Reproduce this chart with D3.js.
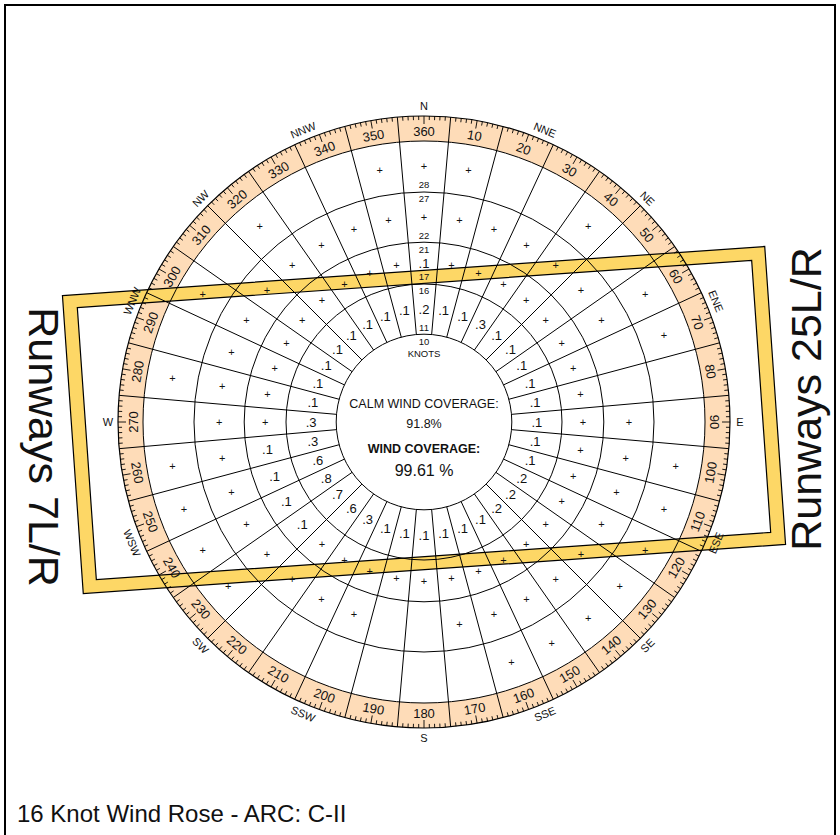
<!DOCTYPE html>
<html>
<head>
<meta charset="utf-8">
<script src="https://cdn.jsdelivr.net/npm/d3@7"></script>
<style>
body { margin: 0; background: #fff; }
text { font-family: Arial, "Liberation Sans", sans-serif; fill: #111; }
</style>
</head>
<body>
<div id="chart-area"></div>
<script>
// speed ring limits (knots), calm circle first
var ringBreaks = [10.5, 16.5, 21.5, 27.5, 33.6];
// sector directions (degrees)
var directions = d3.range(10, 361, 10);
// percentages per sector, listed 10,20,...,360 ; "" = no wind
var ring1 = [".1",".1",".3",".1",".1",".1",".1",".1",".1",".1",".1",".2",".2",".2",".1",".1",".1",".1",
             ".1",".1",".3",".6",".7",".8",".6",".3",".3",".1",".1",".1",".1",".1",".1",".1",".1",".2"];
var ring2 = ["+","+","+","+","+","+","+","+","+","+","+","+","+","+","+","+","+","+",
             "+","+","+","+",".1",".1",".1",".1","+","+","+","+","+","+","+","+","+",".1"];
var ring3 = ["+","+","+","+","+","+","","","+","+","+","+","+","+","+","+","+","",
             "","+","+","+","+","+","+","+","+","+","+","+","+","+","+","+","+","+"];
var ring4 = ["+","","","+","","+","+","","","+","+","+","+","+","+","+","","",
             "","","","","+","+","+","+","","+","","+","","+","","","+","+"];
var compassNames = ["N","NNE","NE","ENE","E","ESE","SE","SSE","S","SSW","SW","WSW","W","WNW","NW","NNW"];
var calmCoverage = "91.8%";
var windCoverage = "99.61 %";
var runwayHeading = 86;      // true heading of runway 7/25 on the rose
var crosswindLimit = 16.3;   // knots, inner edge of runway template
var titleText = "16 Knot Wind Rose - ARC: C-II";

var W = 840, H = 835;
var cx = 424, cy = 422;
var ringOuter = 306;

var svg = d3.select("#chart-area")
    .append("svg")
        .attr("width", W)
        .attr("height", H);

// border
svg.append("rect")
    .attr("x", 5).attr("y", 5)
    .attr("width", 830).attr("height", 845)
    .attr("fill", "none")
    .attr("stroke", "#000")
    .attr("stroke-width", 2);

// scales
var rScale = d3.scaleLinear()
    .domain([0, 33.6])
    .range([0, 281]);
var rad = d3.scaleLinear()
    .domain([0, 360])
    .range([0, 2 * Math.PI]);

function pt(deg, r) {
    var a = rad(deg);
    return [cx + r * Math.sin(a), cy - r * Math.cos(a)];
}

var g = svg.append("g");

// compass ring fill
var rInner = rScale(ringBreaks[ringBreaks.length - 1]);
g.append("path")
    .attr("transform", "translate(" + cx + "," + cy + ")")
    .attr("d", d3.arc()({innerRadius: rInner, outerRadius: ringOuter, startAngle: 0, endAngle: 2 * Math.PI}))
    .attr("fill", "#fedcb8");

// runway template
var ha = rad(runwayHeading);
var ux = Math.sin(ha), uy = -Math.cos(ha);
var nx = -Math.cos(ha), ny = -Math.sin(ha);
var bx = cx, by = cy - 2;
function rp(along, across) {
    return [bx + along * ux + across * nx, by + along * uy + across * ny];
}
var inW = rScale(crosswindLimit), outW = inW + 13;
var outL = 352, inL = outL - 14;
function rectPath(L, Wd) {
    var p = [rp(-L, Wd), rp(L, Wd), rp(L, -Wd), rp(-L, -Wd)];
    return "M" + p.map(function(d) { return d[0] + "," + d[1]; }).join("L") + "Z";
}
g.append("path")
    .attr("d", rectPath(outL, outW) + rectPath(inL, inW))
    .attr("fill", "#fdd766")
    .attr("fill-rule", "evenodd")
    .attr("stroke", "#000")
    .attr("stroke-width", 1.2);

// speed circles
ringBreaks.forEach(function(b) {
    g.append("circle")
        .attr("cx", cx).attr("cy", cy)
        .attr("r", rScale(b))
        .attr("fill", "none")
        .attr("stroke", "#000")
        .attr("stroke-width", 1);
});
g.append("circle")
    .attr("cx", cx).attr("cy", cy)
    .attr("r", ringOuter)
    .attr("fill", "none")
    .attr("stroke", "#000")
    .attr("stroke-width", 1.2);

// sector boundaries
d3.range(5, 360, 10).forEach(function(d) {
    var a = pt(d, rScale(ringBreaks[0])), b = pt(d, ringOuter);
    g.append("line")
        .attr("x1", a[0]).attr("y1", a[1])
        .attr("x2", b[0]).attr("y2", b[1])
        .attr("stroke", "#000")
        .attr("stroke-width", 1);
});

// degree ticks
d3.range(0, 360, 1).filter(function(d) { return d % 10 != 5; }).forEach(function(d) {
    var len = d % 10 == 0 ? 8 : 4;
    var a = pt(d, ringOuter), b = pt(d, ringOuter - len);
    g.append("line")
        .attr("x1", a[0]).attr("y1", a[1])
        .attr("x2", b[0]).attr("y2", b[1])
        .attr("stroke", "#000")
        .attr("stroke-width", 0.9);
});

function readable(d) {
    return (d > 90 && d < 270) ? d - 180 : d;
}

// degree labels
directions.forEach(function(d) {
    var p = pt(d, 291);
    g.append("text")
        .attr("transform", "translate(" + p[0] + "," + p[1] + ") rotate(" + readable(d % 360) + ")")
        .attr("text-anchor", "middle")
        .attr("dy", "0.36em")
        .attr("font-size", "13px")
        .text(d);
});

// compass point names
compassNames.forEach(function(n, i) {
    var d = i * 22.5;
    var p = pt(d, 316);
    var rot = (i % 4 == 0) ? 0 : readable(d);
    g.append("text")
        .attr("transform", "translate(" + p[0] + "," + p[1] + ") rotate(" + rot + ")")
        .attr("text-anchor", "middle")
        .attr("dy", "0.36em")
        .attr("font-size", "11px")
        .text(n);
});

// speed labels along north
ringBreaks.slice(0, 4).forEach(function(b) {
    var r = rScale(b);
    g.append("text")
        .attr("x", cx).attr("y", cy - r + 7)
        .attr("text-anchor", "middle")
        .attr("dy", "0.36em")
        .attr("font-size", "9.5px")
        .text(Math.floor(b));
    g.append("text")
        .attr("x", cx).attr("y", cy - r - 7)
        .attr("text-anchor", "middle")
        .attr("dy", "0.36em")
        .attr("font-size", "9.5px")
        .text(Math.ceil(b));
});
g.append("text")
    .attr("x", cx).attr("y", cy - rScale(ringBreaks[0]) + 19)
    .attr("text-anchor", "middle")
    .attr("dy", "0.36em")
    .attr("font-size", "9.5px")
    .text("KNOTS");

// cell values
[ring1, ring2, ring3, ring4].forEach(function(vals, i) {
    var rm = (rScale(ringBreaks[i]) + rScale(ringBreaks[i + 1])) / 2;
    vals.forEach(function(v, j) {
        if (!v) return;
        var p = pt(directions[j], rm);
        g.append("text")
            .attr("x", p[0]).attr("y", p[1])
            .attr("text-anchor", "middle")
            .attr("dy", "0.36em")
            .attr("font-size", v == "+" ? "11px" : "13px")
            .text(v);
    });
});

// centre text
g.append("text").attr("x", cx).attr("y", 403).attr("dy", "0.36em")
    .attr("text-anchor", "middle").attr("font-size", "12.5px").text("CALM WIND COVERAGE:");
g.append("text").attr("x", cx).attr("y", 423).attr("dy", "0.36em")
    .attr("text-anchor", "middle").attr("font-size", "12.5px").text(calmCoverage);
g.append("text").attr("x", cx).attr("y", 448).attr("dy", "0.36em")
    .attr("text-anchor", "middle").attr("font-size", "12.5px").attr("font-weight", "bold").text("WIND COVERAGE:");
g.append("text").attr("x", cx).attr("y", 470).attr("dy", "0.36em")
    .attr("text-anchor", "middle").attr("font-size", "16px").text(windCoverage);

// runway labels
svg.append("text")
    .attr("transform", "translate(44,447) rotate(90)")
    .attr("text-anchor", "middle")
    .attr("dy", "0.36em")
    .attr("font-size", "43px")
    .text("Runways 7L/R");
svg.append("text")
    .attr("transform", "translate(806,399) rotate(-90)")
    .attr("text-anchor", "middle")
    .attr("dy", "0.36em")
    .attr("font-size", "43px")
    .text("Runways 25L/R");

// title
svg.append("text")
    .attr("x", 17).attr("y", 822)
    .attr("font-size", "24px")
    .text(titleText);
</script>
</body>
</html>
